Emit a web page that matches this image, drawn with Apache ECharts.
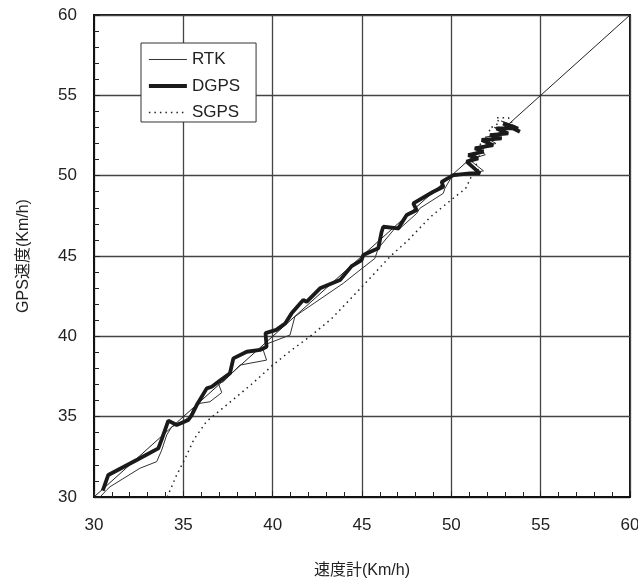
<!DOCTYPE html>
<html><head><meta charset="utf-8">
<script src="https://cdn.jsdelivr.net/npm/echarts@6/dist/echarts.min.js"></script>
<style>html,body{margin:0;padding:0;background:#fff}#c{width:638px;height:581px}</style>
</head><body><div id="c"></div>
<script>
const xTicks = [30, 35, 40, 45, 50, 55, 60];
const yTicks = [30, 35, 40, 45, 50, 55, 60];
const seriesNames = ['RTK', 'DGPS', 'SGPS'];
const diagonal = [[30, 30], [60, 60]];
const rtk = [[30.34,30.0],[30.71,30.44],[30.9,30.64],[32.57,31.79],[33.51,32.2],[33.79,32.92],[34.07,33.86],[34.35,34.37],[34.81,34.59],[35.37,35.0],[35.56,35.52],[35.93,35.83],[36.49,35.93],[37.15,36.5],[36.96,37.08],[37.24,37.17],[38.17,38.21],[39.66,38.52],[39.47,39.15],[39.75,39.56],[40.97,40.08],[41.24,41.22],[41.62,41.53],[43.95,43.3],[44.89,44.13],[45.72,44.85],[45.91,45.48],[46.84,46.72],[47.03,46.62],[48.06,47.65],[48.24,47.97],[49.55,48.9],[49.64,49.21],[50.02,49.93],[51.04,50.14],[51.8,50.3],[51.0,51.0],[51.9,51.3],[51.4,51.8],[52.5,52.0],[51.9,52.4],[53.0,52.6],[52.4,53.0],[53.5,53.0],[52.8,53.4],[53.6,53.1]];
const dgps = [[30.49,30.39],[30.8,31.37],[32.39,32.3],[32.57,32.41],[33.6,33.03],[33.79,33.59],[34.16,34.75],[34.63,34.48],[35.28,34.79],[35.47,35.1],[35.75,35.72],[36.31,36.76],[36.59,36.86],[36.96,37.17],[37.61,37.7],[37.8,38.63],[38.55,39.04],[39.29,39.15],[39.66,39.35],[39.6,40.2],[40.2,40.4],[40.7,40.8],[41.06,41.43],[41.71,42.26],[41.9,42.15],[42.65,42.99],[43.77,43.5],[44.42,44.37],[44.98,44.75],[45.07,45.06],[45.91,45.48],[46.1,46.51],[46.19,46.82],[47.03,46.72],[47.5,47.55],[48.06,47.86],[47.87,48.28],[48.99,49.0],[49.55,49.31],[49.46,49.62],[50.11,50.04],[51.04,50.14],[51.6,50.14],[50.86,50.87],[51.5,51.08],[50.95,51.28],[51.79,51.49],[51.32,51.7],[52.34,51.9],[51.7,52.22],[52.81,52.32],[52.16,52.53],[53.18,52.63],[52.53,52.94],[53.74,52.94],[52.9,53.25],[53.84,52.73]];
const sgps = [[34.1,30.0],[34.6,31.3],[35.1,32.4],[35.6,33.6],[36.3,34.7],[37.5,35.8],[38.8,37.0],[40.0,38.2],[41.0,39.1],[42.1,40.0],[43.3,41.1],[44.5,42.5],[45.6,43.8],[46.6,45.0],[47.6,46.0],[48.8,47.4],[50.0,48.5],[50.8,49.2],[51.1,49.9],[51.5,50.4],[51.3,51.0],[51.9,51.5],[51.6,52.0],[52.3,52.4],[52.1,52.9],[52.7,53.3],[52.5,53.6],[53.2,53.6],[53.4,53.3]];

const FONT = '"Liberation Sans", Arial, "Noto Sans CJK JP", sans-serif';
const chart = echarts.init(document.getElementById('c'), null, {renderer: 'canvas'});
function axis(name, ticks, gap, margin) {
  return {
    type: 'value', min: ticks[0], max: ticks[ticks.length - 1], interval: ticks[1] - ticks[0],
    name: name, nameLocation: 'middle', nameGap: gap,
    nameTextStyle: {fontFamily: FONT, fontSize: 16, color: '#222'},
    axisLine: {show: true, onZero: false, lineStyle: {color: '#111', width: 2}},
    axisTick: {show: true, inside: true, length: 6, lineStyle: {color: '#222', width: 1}},
    minorTick: {show: true, splitNumber: 5, length: 5, lineStyle: {color: '#222', width: 1}},
    splitLine: {show: true, lineStyle: {color: '#444', width: 1.3}},
    axisLabel: {fontFamily: FONT, fontSize: 17, color: '#222', margin: margin}
  };
}
const lineStyles = {
  RTK: {color: '#333', width: 1},
  DGPS: {color: '#1a1a1a', width: 3.8},
  SGPS: {color: '#222', width: 1.5, type: [1.5, 4]}
};
chart.setOption({
  animation: false,
  backgroundColor: '#fff',
  grid: {left: 94, right: 8, top: 15, bottom: 84, show: true, borderColor: '#111', borderWidth: 2,
         backgroundColor: 'transparent', containLabel: false, outerBoundsMode: 'none'},
  xAxis: axis('速度計(Km/h)', xTicks, 66, 20),
  yAxis: axis('GPS速度(Km/h)', yTicks, 62, 17),
  legend: {
    data: seriesNames.map(n => ({name: n, lineStyle: lineStyles[n]})),
    orient: 'vertical', left: 141, top: 43,
    backgroundColor: '#fff', borderColor: '#333', borderWidth: 1,
    padding: [8, 16, 1, 6], itemGap: 9.5, itemWidth: 38, itemHeight: 14,
    itemStyle: {opacity: 0},
    textStyle: {fontFamily: FONT, fontSize: 17, color: '#222'}
  },
  series: [
    {name: 'diag', type: 'line', data: diagonal, symbol: 'none', silent: true, z: 1,
     lineStyle: {color: '#222', width: 1}},
    {name: 'SGPS', type: 'line', data: sgps, symbol: 'none', z: 2,
     lineStyle: lineStyles.SGPS, itemStyle: {color: '#222'}},
    {name: 'RTK', type: 'line', data: rtk, symbol: 'none', z: 3,
     lineStyle: lineStyles.RTK, itemStyle: {color: '#333'}},
    {name: 'DGPS', type: 'line', data: dgps, symbol: 'none', z: 4,
     lineStyle: Object.assign({join: 'bevel'}, lineStyles.DGPS), itemStyle: {color: '#1a1a1a'}}
  ]
});
</script></body></html>
